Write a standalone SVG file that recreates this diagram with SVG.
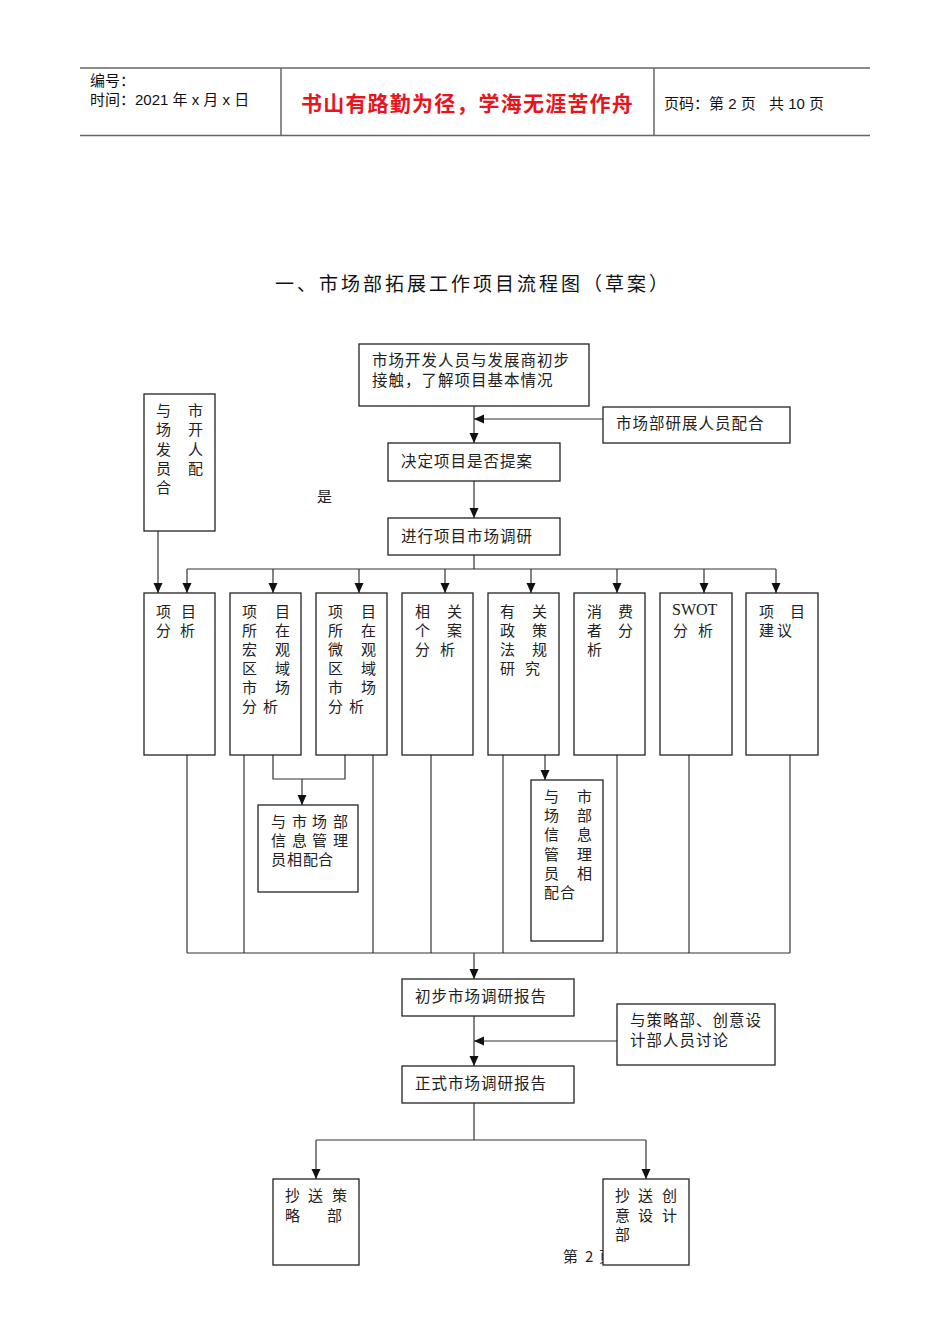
<svg xmlns="http://www.w3.org/2000/svg" width="950" height="1344" viewBox="0 0 950 1344">
<style>
.bg{fill:#fff}
.hl{stroke:#666;stroke-width:1.5;fill:none}
.box{fill:#fff;stroke:#222;stroke-width:1.3}
.ln{stroke:#333;stroke-width:1.2;fill:none}
.ar{stroke:#333;stroke-width:1.2;fill:none;marker-end:url(#ah)}
.t{font-family:"Noto Sans CJK SC","Liberation Sans",sans-serif;font-size:15px;fill:#222}
.f{font-family:"Noto Sans CJK SC","Liberation Sans",sans-serif;font-size:15.5px;fill:#222;letter-spacing:1px}
.h{font-family:"Liberation Sans","Noto Sans CJK SC",sans-serif;font-size:15px;fill:#111}
.red{font-family:"Noto Sans CJK SC",sans-serif;font-size:21px;font-weight:bold;fill:#e8141e}
.title{font-family:"Noto Sans CJK SC",sans-serif;font-size:19px;fill:#111;letter-spacing:3px}
.sw{font-family:"Liberation Serif",serif;font-size:16px;fill:#222}
</style>
<defs>
<marker id="ah" markerUnits="userSpaceOnUse" markerWidth="10" markerHeight="10" refX="10" refY="4.5" orient="auto">
<path d="M0,0 L10,4.5 L0,9 z" fill="#111"/>
</marker>
</defs>
<rect class="bg" x="0" y="0" width="950" height="1344"/>

<g id="header">
<line class="hl" x1="80" y1="68" x2="870" y2="68"/>
<line class="hl" x1="80" y1="135.5" x2="870" y2="135.5"/>
<line class="hl" x1="281" y1="68" x2="281" y2="135.5"/>
<line class="hl" x1="654" y1="68" x2="654" y2="135.5"/>
<text class="h" x="90" y="86">编号：</text>
<text class="h" x="90" y="105">时间：2021 年 x 月 x 日</text>
<text class="red" x="301" y="111" letter-spacing="1.2">书山有路勤为径，学海无涯苦作舟</text>
<text class="h" y="109" font-size="14"><tspan x="664">页码：第 2 页</tspan><tspan x="769">共 10 页</tspan></text>
</g>

<text class="title" x="275" y="291">一、市场部拓展工作项目流程图（草案）</text>

<g id="connectors">
<line class="ar" x1="474" y1="406" x2="474" y2="443"/>
<line class="ar" x1="603" y1="419" x2="474" y2="419"/>
<line class="ar" x1="474" y1="481" x2="474" y2="518"/>
<line class="ln" x1="474" y1="555" x2="474" y2="569"/>
<line class="ln" x1="187" y1="569" x2="776" y2="569"/>
<line class="ar" x1="158" y1="531" x2="158" y2="593"/>
<line class="ar" x1="187" y1="569" x2="187" y2="593"/>
<line class="ar" x1="273" y1="569" x2="273" y2="593"/>
<line class="ar" x1="359" y1="569" x2="359" y2="593"/>
<line class="ar" x1="445" y1="569" x2="445" y2="593"/>
<line class="ar" x1="531" y1="569" x2="531" y2="593"/>
<line class="ar" x1="617" y1="569" x2="617" y2="593"/>
<line class="ar" x1="704" y1="569" x2="704" y2="593"/>
<line class="ar" x1="776" y1="569" x2="776" y2="593"/>
<line class="ln" x1="187" y1="755" x2="187" y2="953"/>
<line class="ln" x1="244" y1="755" x2="244" y2="953"/>
<line class="ln" x1="373" y1="755" x2="373" y2="953"/>
<line class="ln" x1="431" y1="755" x2="431" y2="953"/>
<line class="ln" x1="503" y1="755" x2="503" y2="953"/>
<line class="ln" x1="617" y1="755" x2="617" y2="953"/>
<line class="ln" x1="689" y1="755" x2="689" y2="953"/>
<line class="ln" x1="790" y1="755" x2="790" y2="953"/>
<polyline class="ln" points="273,755 273,779 345,779 345,755"/>
<line class="ar" x1="302" y1="779" x2="302" y2="805"/>
<line class="ar" x1="545" y1="755" x2="545" y2="780"/>
<line class="ln" x1="187" y1="953" x2="790" y2="953"/>
<line class="ar" x1="474" y1="953" x2="474" y2="979"/>
<line class="ar" x1="474" y1="1016" x2="474" y2="1066"/>
<line class="ar" x1="617" y1="1041" x2="474" y2="1041"/>
<line class="ln" x1="474" y1="1103" x2="474" y2="1140"/>
<line class="ln" x1="316" y1="1140" x2="646" y2="1140"/>
<line class="ar" x1="316" y1="1140" x2="316" y2="1179"/>
<line class="ar" x1="646" y1="1140" x2="646" y2="1179"/>
</g>

<g id="n-contact">
<rect class="box" x="359" y="344" width="230" height="62"/>
<text class="f" x="372" y="366">市场开发人员与发展商初步</text>
<text class="f" x="372" y="386">接触，了解项目基本情况</text>
</g>
<g id="n-assist">
<rect class="box" x="603" y="407" width="187" height="36"/>
<text class="f" x="616" y="429">市场部研展人员配合</text>
</g>
<g id="n-decide">
<rect class="box" x="388" y="443" width="172" height="38"/>
<text class="f" x="401" y="467">决定项目是否提案</text>
</g>
<text class="t" x="317" y="502">是</text>
<g id="n-research">
<rect class="box" x="388" y="518" width="172" height="37"/>
<text class="f" x="401" y="542">进行项目市场调研</text>
</g>
<g id="n-left">
<rect class="box" x="144" y="394" width="71" height="137"/>
<text class="t" x="156 188" y="416">与市</text>
<text class="t" x="156 188" y="435">场开</text>
<text class="t" x="156 188" y="455">发人</text>
<text class="t" x="156 188" y="474">员配</text>
<text class="t" x="156" y="493">合</text>
</g>

<g id="n-b1">
<rect class="box" x="144" y="593" width="71" height="162"/>
<text class="t" x="156 181" y="617">项目</text>
<text class="t" x="156 180" y="636">分析</text>
</g>
<g id="n-b2">
<rect class="box" x="230" y="593" width="71" height="162"/>
<text class="t" x="242 275" y="617">项目</text>
<text class="t" x="242 275" y="636">所在</text>
<text class="t" x="242 275" y="655">宏观</text>
<text class="t" x="242 275" y="674">区域</text>
<text class="t" x="242 275" y="693">市场</text>
<text class="t" x="242 263" y="712">分析</text>
</g>
<g id="n-b3">
<rect class="box" x="316" y="593" width="71" height="162"/>
<text class="t" x="328 361" y="617">项目</text>
<text class="t" x="328 361" y="636">所在</text>
<text class="t" x="328 361" y="655">微观</text>
<text class="t" x="328 361" y="674">区域</text>
<text class="t" x="328 361" y="693">市场</text>
<text class="t" x="328 349" y="712">分析</text>
</g>
<g id="n-b4">
<rect class="box" x="402" y="593" width="71" height="162"/>
<text class="t" x="415 447" y="617">相关</text>
<text class="t" x="415 447" y="636">个案</text>
<text class="t" x="415 440" y="655">分析</text>
</g>
<g id="n-b5">
<rect class="box" x="488" y="593" width="71" height="162"/>
<text class="t" x="500 532" y="617">有关</text>
<text class="t" x="500 532" y="636">政策</text>
<text class="t" x="500 532" y="655">法规</text>
<text class="t" x="500 525" y="674">研究</text>
</g>
<g id="n-b6">
<rect class="box" x="574" y="593" width="71" height="162"/>
<text class="t" x="587 618" y="617">消费</text>
<text class="t" x="587 618" y="636">者分</text>
<text class="t" x="587" y="655">析</text>
</g>
<g id="n-b7">
<rect class="box" x="660" y="593" width="72" height="162"/>
<text class="sw" x="672" y="615">SWOT</text>
<text class="t" x="673 698" y="636">分析</text>
</g>
<g id="n-b8">
<rect class="box" x="746" y="593" width="72" height="162"/>
<text class="t" x="759 790" y="617">项目</text>
<text class="t" x="759 777" y="636">建议</text>
</g>

<g id="n-info1">
<rect class="box" x="258" y="805" width="100" height="87"/>
<text class="t" x="271 292 312 333" y="827">与市场部</text>
<text class="t" x="271 292 312 333" y="846">信息管理</text>
<text class="t" x="271 287 303 318" y="865">员相配合</text>
</g>
<g id="n-info2">
<rect class="box" x="531" y="780" width="72" height="161"/>
<text class="t" x="544 577" y="802">与市</text>
<text class="t" x="544 577" y="821">场部</text>
<text class="t" x="544 577" y="840">信息</text>
<text class="t" x="544 577" y="860">管理</text>
<text class="t" x="544 577" y="879">员相</text>
<text class="t" x="544 560" y="898">配合</text>
</g>

<g id="n-prelim">
<rect class="box" x="402" y="979" width="172" height="37"/>
<text class="f" x="415" y="1002">初步市场调研报告</text>
</g>
<g id="n-discuss">
<rect class="box" x="617" y="1004" width="158" height="61"/>
<text class="f" x="630" y="1026">与策略部、创意设</text>
<text class="f" x="630" y="1046">计部人员讨论</text>
</g>
<g id="n-formal">
<rect class="box" x="402" y="1066" width="172" height="37"/>
<text class="f" x="415" y="1089">正式市场调研报告</text>
</g>

<text class="t" y="1262" font-size="14"><tspan x="563">第</tspan><tspan x="585">2</tspan><tspan x="599">页</tspan></text>

<g id="n-cc1">
<rect class="box" x="273" y="1179" width="86" height="86"/>
<text class="t" x="285 308 332" y="1201">抄送策</text>
<text class="t" x="285 327" y="1221">略部</text>
</g>
<g id="n-cc2">
<rect class="box" x="603" y="1179" width="86" height="86"/>
<text class="t" x="615 638 662" y="1201">抄送创</text>
<text class="t" x="615 638 662" y="1221">意设计</text>
<text class="t" x="615" y="1240">部</text>
</g>
</svg>
